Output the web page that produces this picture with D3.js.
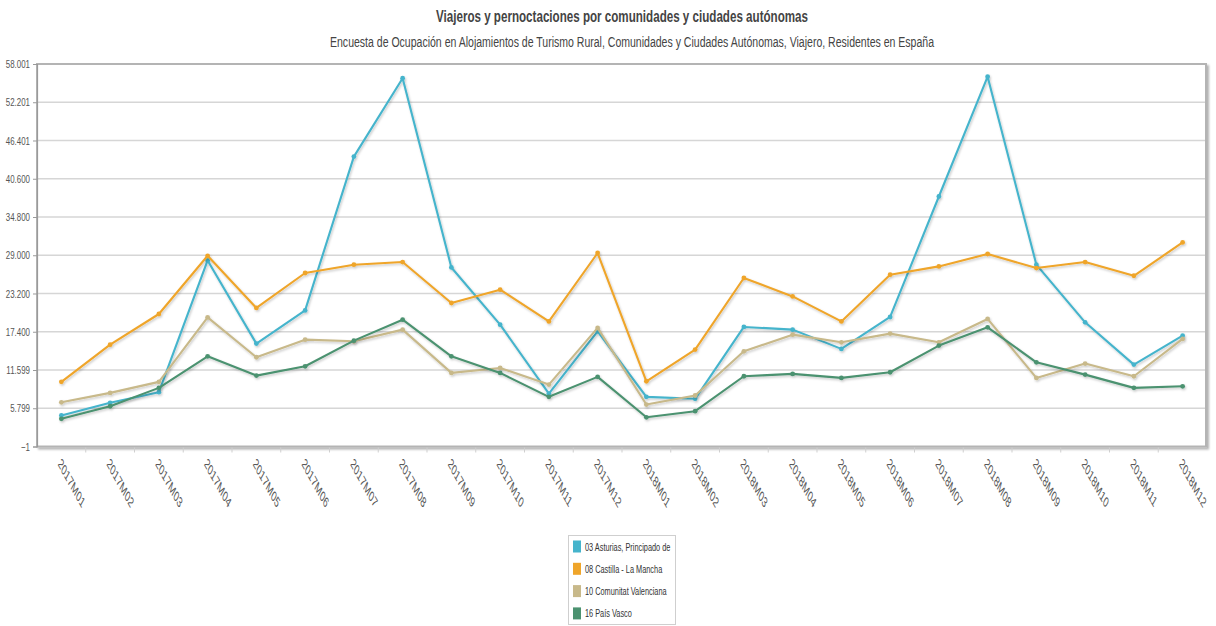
<!DOCTYPE html>
<html>
<head>
<meta charset="utf-8">
<script src="https://cdn.jsdelivr.net/npm/d3@7"></script>
<style>
  html, body { margin: 0; padding: 0; background: #fff; }
  svg { display: block; }
  text { font-family: "Liberation Sans", Arial, sans-serif; }
</style>
</head>
<body>
<svg id="chart" width="1216" height="626"></svg>
<script>
// ---- data ----
const title = "Viajeros y pernoctaciones por comunidades y ciudades autónomas";
const subtitle = "Encuesta de Ocupación en Alojamientos de Turismo Rural, Comunidades y Ciudades Autónomas, Viajero, Residentes en España";
const categories = ["2017M01","2017M02","2017M03","2017M04","2017M05","2017M06","2017M07","2017M08","2017M09","2017M10","2017M11","2017M12",
                    "2018M01","2018M02","2018M03","2018M04","2018M05","2018M06","2018M07","2018M08","2018M09","2018M10","2018M11","2018M12"];
const seriesNames = ["03 Asturias, Principado de","08 Castilla - La Mancha","10 Comunitat Valenciana","16 País Vasco"];
const asturias   = [4700, 6620, 8230, 28210, 15600, 20640, 43960, 55840, 27150, 18470, 8030, 17460, 7530, 7230, 18130, 17720, 14800, 19640, 37910, 56080, 27570, 18830, 12420, 16810];
const castilla   = [9800, 15440, 20090, 28920, 21010, 26310, 27570, 27970, 21760, 23780, 18970, 29340, 9890, 14690, 25550, 22760, 18970, 26050, 27310, 29190, 27060, 27970, 25890, 30940];
const valenciana = [6700, 8130, 9800, 19580, 13530, 16200, 15950, 17720, 11160, 11910, 9390, 17980, 6360, 7730, 14430, 16960, 15800, 17120, 15800, 19340, 10400, 12570, 10650, 16310];
const paisVasco  = [4200, 6100, 8890, 13670, 10750, 12160, 16050, 19230, 13670, 11160, 7530, 10560, 4430, 5350, 10650, 11010, 10400, 11260, 15300, 18070, 12770, 10900, 8890, 9130];
const yTicks = [-1, 5799, 11599, 17400, 23200, 29000, 34800, 40600, 46401, 52201, 58001];
const colors = ["#45b4cc", "#efa52a", "#c8b98a", "#4b9270"];

const seriesValues = [asturias, castilla, valenciana, paisVasco];

// ---- layout ----
const svg = d3.select("#chart");
const L = 37, R = 1207, T = 64, B = 446.5;

const esLocale = d3.formatLocale({decimal: ",", thousands: ".", grouping: [3], currency: ["", " €"]});
const fmt = esLocale.format(",d");

const x = d3.scaleBand().domain(categories).range([L, R]).padding(0);
const y = d3.scaleLinear().domain([yTicks[0], yTicks[yTicks.length - 1]]).range([B, T]);
const cx = d => x(d) + x.bandwidth() / 2;

function condense(sel, factor) {
  sel.each(function () {
    const w = this.getComputedTextLength();
    d3.select(this).attr("textLength", w * factor).attr("lengthAdjust", "spacingAndGlyphs");
  });
}

const defs = svg.append("defs");
const sh = defs.append("filter").attr("id", "shadow").attr("x", "-5%").attr("y", "-5%").attr("width", "110%").attr("height", "120%");
sh.append("feDropShadow").attr("dx", 1).attr("dy", 1.5).attr("stdDeviation", 1).attr("flood-color", "#000").attr("flood-opacity", 0.22);
const fsh = defs.append("filter").attr("id", "fshadow").attr("x", "-2%").attr("y", "-2%").attr("width", "104%").attr("height", "104%");
fsh.append("feDropShadow").attr("dx", 2).attr("dy", 2).attr("stdDeviation", 1.2).attr("flood-color", "#000").attr("flood-opacity", 0.3);

// Title
const tt = svg.append("text").attr("x", 622).attr("y", 22).attr("text-anchor", "middle")
  .attr("font-size", 16).attr("font-weight", "bold").attr("fill", "#444").text(title);
tt.attr("textLength", 372).attr("lengthAdjust", "spacingAndGlyphs");
const st = svg.append("text").attr("x", 330).attr("y", 47).attr("text-anchor", "start")
  .attr("font-size", 14).attr("fill", "#444").text(subtitle);
st.attr("textLength", 604).attr("lengthAdjust", "spacingAndGlyphs");

// Plot frame
svg.append("rect").attr("x", L).attr("y", T).attr("width", R - L - 1).attr("height", B - T)
  .attr("fill", "#fff").attr("stroke", "#b4b4b4").attr("stroke-width", 2).attr("filter", "url(#fshadow)");

// Grid lines
svg.append("g").selectAll("line").data(yTicks.slice(1, -1)).join("line")
  .attr("x1", L).attr("x2", R - 2).attr("y1", d => y(d)).attr("y2", d => y(d))
  .attr("stroke", "#d6d6d6").attr("stroke-width", 1.5);

// Y axis
const yAxis = svg.append("g").attr("transform", `translate(${L},0)`)
  .call(d3.axisLeft(y).tickValues(yTicks).tickFormat(fmt).tickSize(4).tickPadding(3));
yAxis.select(".domain").attr("stroke", "#9a9a9a").attr("stroke-width", 1.2);
yAxis.selectAll(".tick line").attr("stroke", "#9a9a9a");
yAxis.selectAll("text").attr("font-size", 11).attr("fill", "#555").attr("font-family", "Liberation Sans, Arial, sans-serif");
condense(yAxis.selectAll("text"), 0.72);

// X axis
const xAxis = svg.append("g").attr("transform", `translate(0,${B})`)
  .call(d3.axisBottom(x).tickSize(0).tickFormat(""));
xAxis.select(".domain").attr("stroke", "#777").attr("stroke-width", 2.5).attr("filter", "url(#shadow)");
xAxis.selectAll(".tick").remove();
svg.append("g").selectAll("line").data(categories.slice(1)).join("line")
  .attr("x1", d => x(d)).attr("x2", d => x(d)).attr("y1", B + 1).attr("y2", B + 6)
  .attr("stroke", "#cfcfcf").attr("stroke-width", 1);
svg.append("g").selectAll("text").data(categories).join("text")
  .attr("transform", d => `translate(${cx(d) - 4},${B + 18}) scale(0.55,1) rotate(45)`)
  .attr("font-size", 15).attr("fill", "#555").attr("text-anchor", "start")
  .text(d => d);

// Lines
const line = d3.line().x((d, i) => cx(categories[i])).y(d => y(d));
const gSeries = svg.append("g");
seriesValues.forEach((vals, s) => {
  const g = gSeries.append("g").attr("filter", "url(#shadow)");
  g.append("path").datum(vals).attr("d", line)
    .attr("fill", "none").attr("stroke", colors[s]).attr("stroke-width", 2.1).attr("stroke-linejoin", "round");
  g.selectAll("circle").data(vals).join("circle")
    .attr("cx", (d, i) => cx(categories[i])).attr("cy", d => y(d)).attr("r", 2.4)
    .attr("fill", colors[s]);
});

// Legend
const lg = svg.append("g");
lg.append("rect").attr("x", 568.5).attr("y", 535.5).attr("width", 107).attr("height", 89)
  .attr("fill", "#fff").attr("stroke", "#cfcfcf");
const items = lg.selectAll("g.item").data(seriesNames).join("g").attr("class", "item")
  .attr("transform", (d, i) => `translate(573,${546.5 + i * 22.3})`);
items.append("rect").attr("x", 0).attr("y", -6).attr("width", 8).attr("height", 12)
  .attr("fill", (d, i) => colors[i]);
const lt = items.append("text").attr("x", 12).attr("y", 4).attr("font-size", 10.5).attr("fill", "#333").text(d => d);
condense(lt, 0.7);
</script>
</body>
</html>
